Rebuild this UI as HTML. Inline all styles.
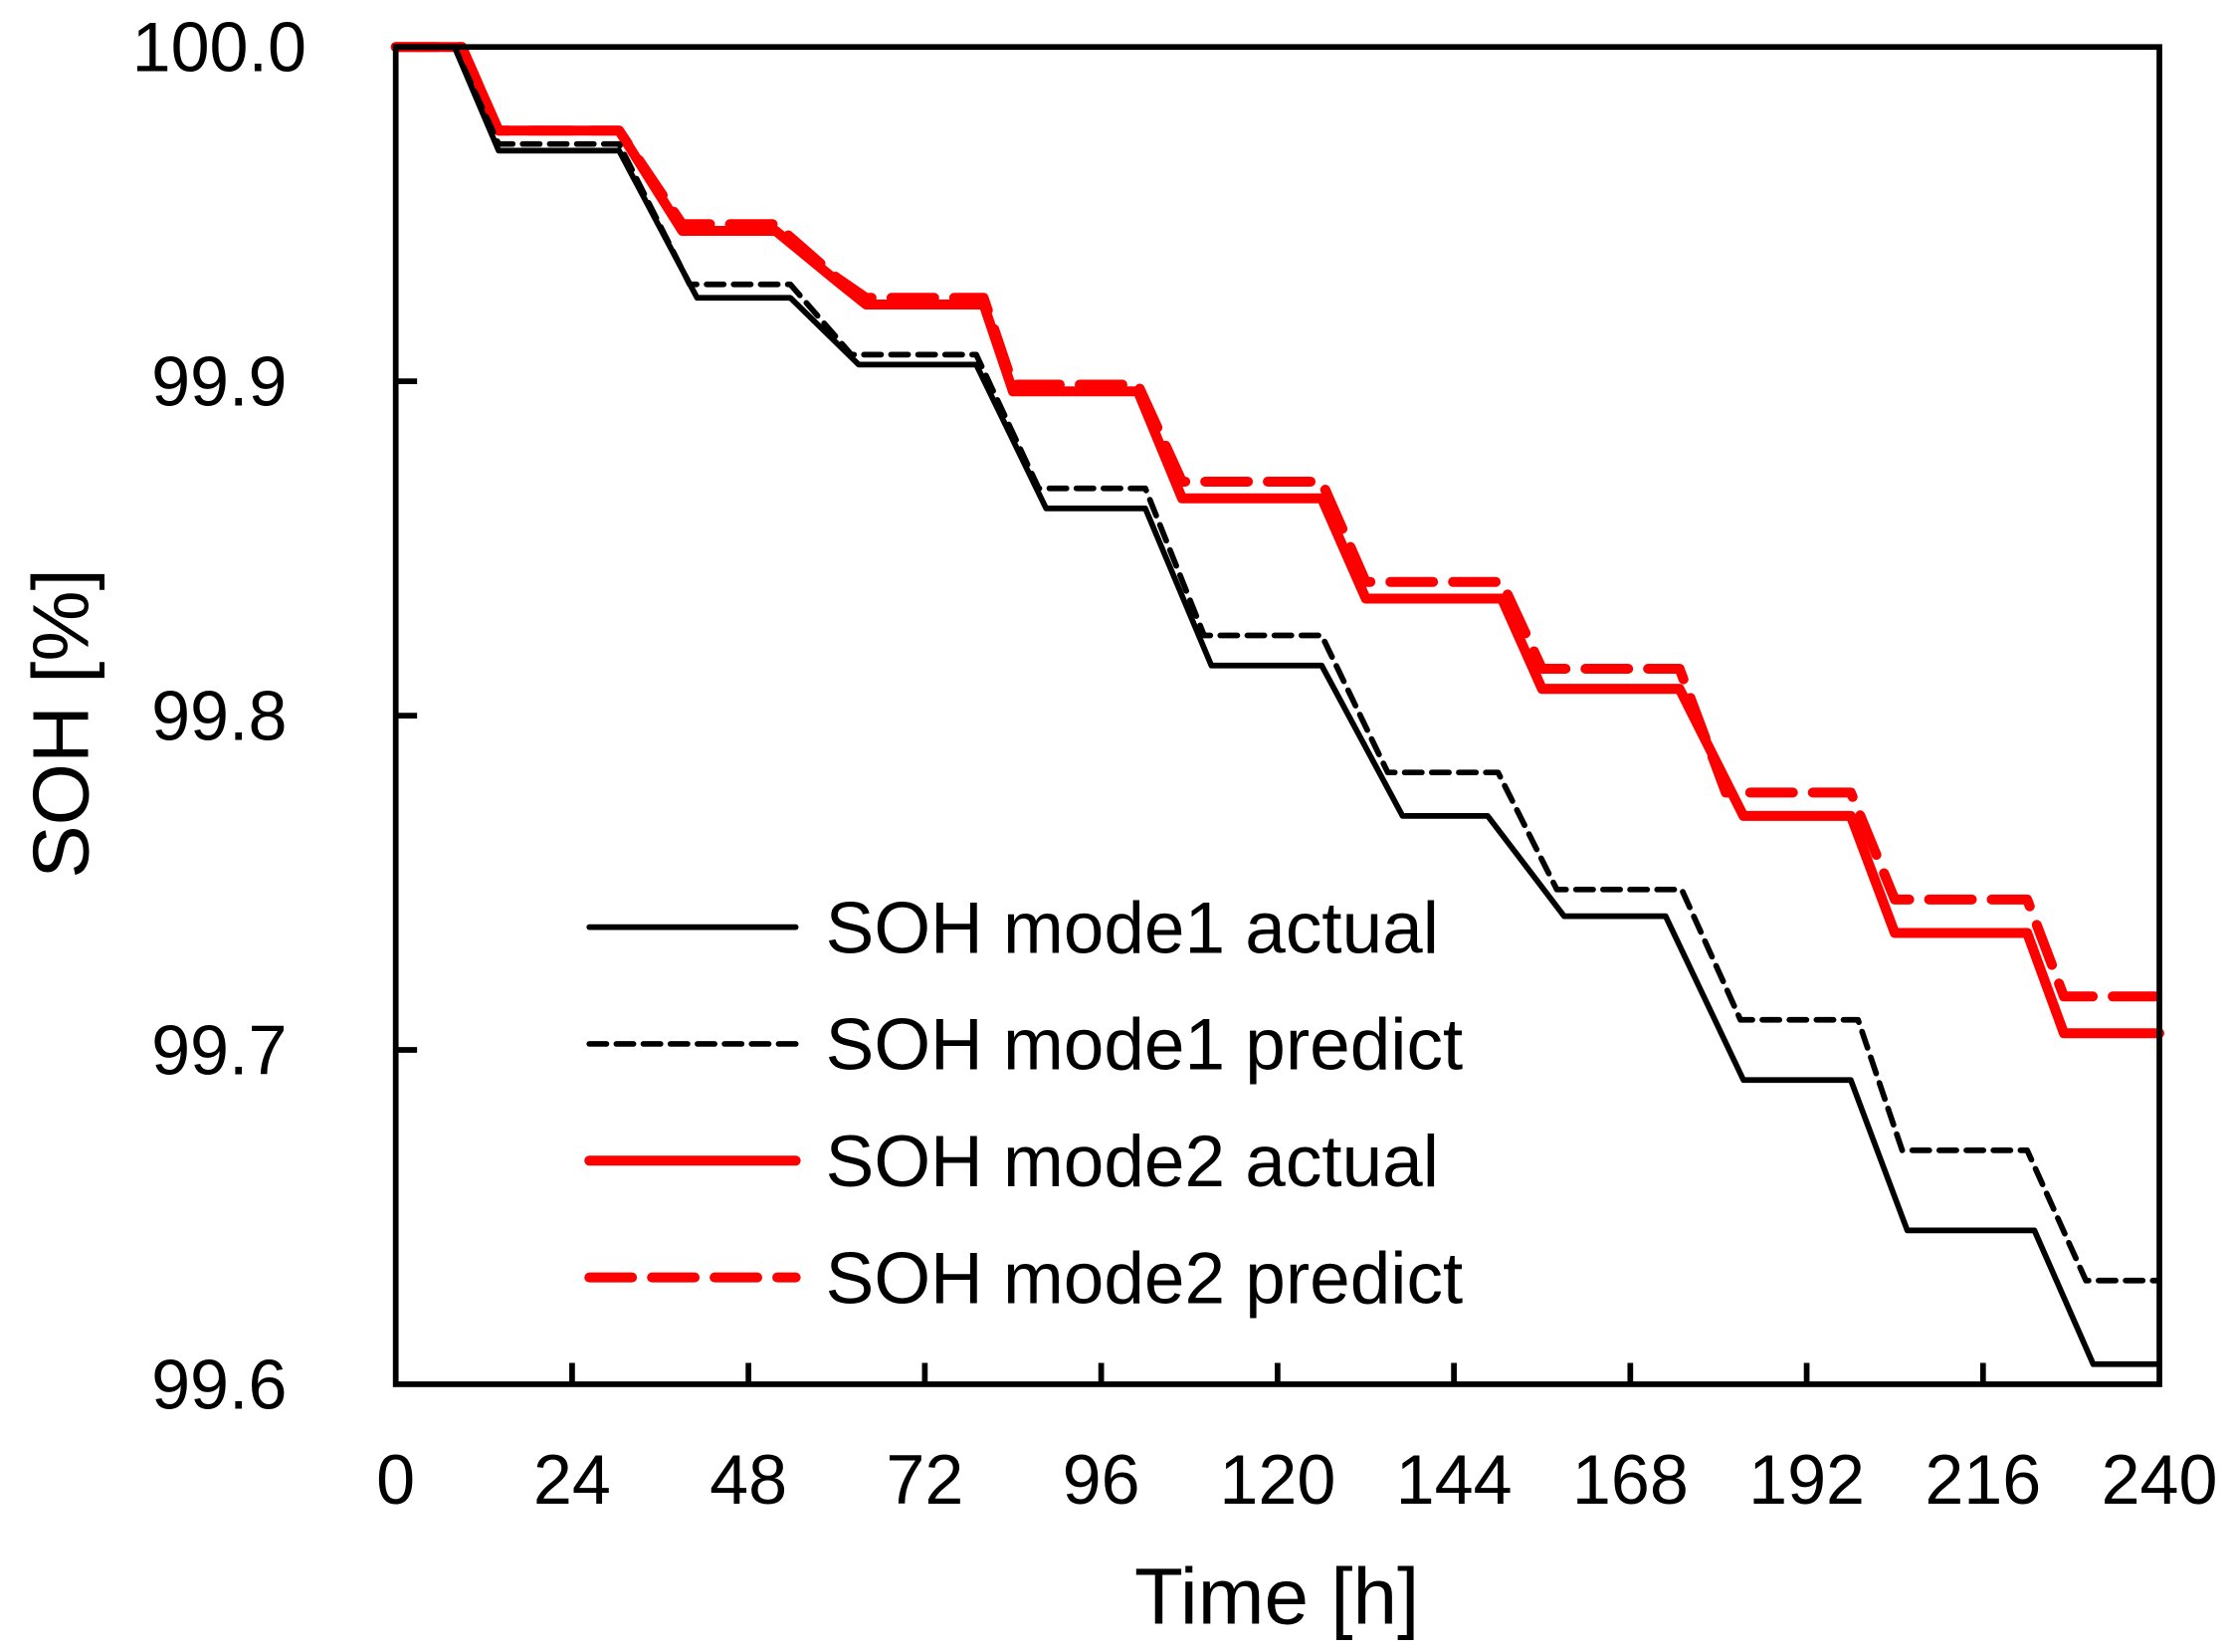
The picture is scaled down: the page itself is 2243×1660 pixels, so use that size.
<!DOCTYPE html>
<html><head><meta charset="utf-8"><style>
html,body{margin:0;padding:0;background:#fff;}
svg{display:block;}
text{font-family:"Liberation Sans",Arial,sans-serif;fill:#000;}
</style></head><body>
<svg id="chart" width="2243" height="1660" viewBox="0 0 1568 1160" preserveAspectRatio="none" xmlns="http://www.w3.org/2000/svg">
<g id="plot"></g>
</svg>
<script>
const xTicks=[0,24,48,72,96,120,144,168,192,216,240];
const yTicks=[99.6,99.7,99.8,99.9,100.0];
const yTickLabels=["99.6","99.7","99.8","99.9","100.0"];
const m1aH=[0,8,14,30.4,41,53.7,63,79,88.5,102,111,126,137,148.6,159,172.8,183.4,198,205.7,223,231,240];
const m1aV=[100,100,99.969,99.969,99.925,99.925,99.905,99.905,99.862,99.862,99.815,99.815,99.770,99.770,99.740,99.740,99.691,99.691,99.646,99.646,99.606,99.606];
const m1pH=[0,8,14,30.4,40,53.7,62,79,87.5,102,110,126,135,150,158,175,183,199,205,222,230,240];
const m1pV=[100,100,99.971,99.971,99.929,99.929,99.908,99.908,99.868,99.868,99.824,99.824,99.783,99.783,99.748,99.748,99.709,99.709,99.670,99.670,99.631,99.631];
const m2aH=[0,9,14,30.4,39,51.7,60,64,80,84,101,107,126,132,150.5,156,174.7,183.4,198,204,222,227,240];
const m2aV=[100,100,99.975,99.975,99.945,99.945,99.930,99.923,99.923,99.897,99.897,99.865,99.865,99.835,99.835,99.808,99.808,99.770,99.770,99.735,99.735,99.705,99.705];
const m2pH=[0,9,14,30.4,39,51.7,60,64,80,84,101,107,126,132,150.5,156,174.7,181,198,204,222,227,240];
const m2pV=[100,100,99.975,99.975,99.947,99.947,99.931,99.925,99.925,99.899,99.899,99.870,99.870,99.840,99.840,99.814,99.814,99.777,99.777,99.745,99.745,99.716,99.716];

const L=278,R=1517,T=33,B=972;
const xs=h=>L+(h/240)*(R-L);
const ys=v=>B-(v-99.6)/0.4*(B-T);
const NS="http://www.w3.org/2000/svg";
const g=document.getElementById('plot');
function mk(tag,attrs,parent){const e=document.createElementNS(NS,tag);for(const k in attrs)e.setAttribute(k,attrs[k]);(parent||g).appendChild(e);return e;}

function series(H,V,name,color,w,dash){
  let d=H.map((h,i)=>(i?'L':'M')+xs(h).toFixed(1)+','+ys(V[i]).toFixed(1)).join('');
  const p=mk('path',{d:d,fill:'none',stroke:color,'stroke-width':w,'stroke-linejoin':'round','stroke-linecap':'round'});
  if(dash)p.setAttribute('stroke-dasharray',dash);
  
  
}
series(m2aH,m2aV,'series-mode2-actual','#ff0000',7);
series(m2pH,m2pV,'series-mode2-predict','#ff0000',7,'30,14');
series(m1aH,m1aV,'series-mode1-actual','#000',4);
series(m1pH,m1pV,'series-mode1-predict','#000',4,'12,7');

const fr=mk('rect',{x:L,y:T,width:R-L,height:B-T,fill:'none',stroke:'#000','stroke-width':4});



xTicks.forEach((t,i)=>{
  if(i>0&&i<xTicks.length-1){const tk=mk('line',{x1:xs(t),x2:xs(t),y1:B,y2:B-15,stroke:'#000','stroke-width':4});
  
  }
  const tx=mk('text',{x:xs(t),y:B+84,'text-anchor':'middle','font-size':49});
  tx.textContent=t;
  
  
});
yTicks.forEach((t,i)=>{
  if(i>0&&i<yTicks.length-1){const tk=mk('line',{x1:L,x2:L+15,y1:ys(t),y2:ys(t),stroke:'#000','stroke-width':4});
  
  }
  const tx=mk('text',{x:154,y:ys(t)+17,'text-anchor':'middle','font-size':49});
  tx.textContent=yTickLabels[i];
  
  
});
const xt=mk('text',{x:897,y:1140,'text-anchor':'middle','font-size':56});
xt.textContent='Time [h]';


const yt=mk('text',{x:0,y:0,'text-anchor':'middle','font-size':56,transform:'translate(62,508) rotate(-90)'});
yt.textContent='SOH [%]';



const leg=[['SOH mode1 actual','#000',4,null,'legend-mode1-actual'],['SOH mode1 predict','#000',4,'12,7','legend-mode1-predict'],['SOH mode2 actual','#ff0000',7,null,'legend-mode2-actual'],['SOH mode2 predict','#ff0000',7,'30,14','legend-mode2-predict']];
leg.forEach((l,i)=>{
  const y=651+i*82;
  const gg=mk('g',{});
  
  
  const ln=mk('line',{x1:414,x2:559,y1:y,y2:y,stroke:l[1],'stroke-width':l[2],'stroke-linecap':'round'},gg);
  if(l[3])ln.setAttribute('stroke-dasharray',l[3]);
  const tx=mk('text',{x:580,y:y+18,'font-size':51},gg);
  tx.textContent=l[0];
});
</script>
</body></html>
